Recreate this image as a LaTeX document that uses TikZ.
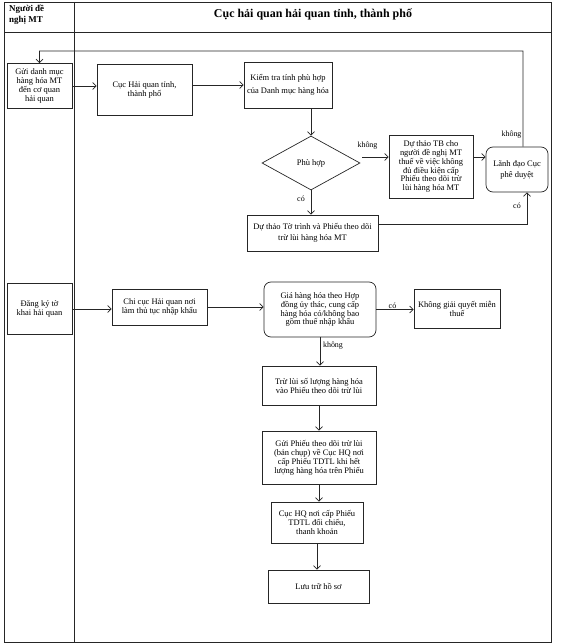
\documentclass[tikz,border=0pt]{standalone}
\usepackage{fontspec}
\setmainfont{Liberation Serif}
\usetikzlibrary{shapes.geometric,arrows.meta}

\begin{document}
\begin{tikzpicture}[x=1bp, y=-1bp,
    >={Straight Barb[length=3.5bp,width=7bp]},
    frame/.style={draw=black!85, line width=0.7bp},
    box/.style={draw=black!85, line width=0.7bp, align=center, inner sep=1bp, font=\fontsize{8.5}{9}\selectfont},
    roundbox/.style={box, rounded corners=7bp},
    decision/.style={draw=black!85, diamond, line width=0.7bp, inner sep=0pt, font=\fontsize{8.5}{9}\selectfont},
    lbl/.style={font=\fontsize{8}{9}\selectfont, inner sep=0pt},
    flow/.style={->, draw=black!85, line width=0.7bp}]

        \useasboundingbox (0,0) rectangle (562,644);

        % Frame and lanes
        \draw[frame] (4,2) rectangle (551,642);
        \draw[frame] (4,32) -- (551,32);
        \draw[frame] (74,2) -- (74,642);
        \node (lanehead) [anchor=north west, align=left, inner sep=0pt, font=\bfseries\fontsize{9}{11}\selectfont] at (9,5) {Người đề\\nghị MT};
        \node (title) [font=\bfseries\fontsize{12}{14}\selectfont] at (313,14) {Cục hải quan hải quan tỉnh, thành phố};

        % Nodes - upper part
        \node (send) [box, minimum width=65bp, minimum height=45bp] at (39.5,86) {Gửi danh mục\\hàng hóa MT\\đến cơ quan\\hải quan};
        \node (cuc) [box, minimum width=95bp, minimum height=51bp] at (144.5,89.5) {Cục Hải quan tỉnh,\\thành phố};
        \node (check) [box, minimum width=88bp, minimum height=46bp, font=\fontsize{8.5}{13}\selectfont] at (288,85) {Kiểm tra tính phù hợp\\của Danh mục hàng hóa};
        \node (dia) [decision, minimum width=98bp, minimum height=54bp] at (311,163) {Phù hợp};
        \node (tb) [box, minimum width=84bp, minimum height=63bp] at (431,166.5) {Dự thảo TB cho\\người đề nghị MT\\thuế về việc không\\đủ điều kiện cấp\\Phiếu theo dõi trừ\\lùi hàng hóa MT};
        \node (lead) [roundbox, minimum width=62bp, minimum height=45bp, font=\fontsize{8.5}{11}\selectfont] at (517,169.5) {Lãnh đạo Cục\\phê duyệt};
        \node (draft) [box, minimum width=131bp, minimum height=36bp, font=\fontsize{8.5}{11}\selectfont] at (312.5,233) {Dự thảo Tờ trình và Phiếu theo dõi\\trừ lùi hàng hóa MT};

        % Nodes - lower part
        \node (reg) [box, minimum width=65bp, minimum height=51bp] at (39.5,309) {Đăng ký tờ\\khai hải quan};
        \node (chi) [box, minimum width=95bp, minimum height=36bp] at (159.5,307) {Chi cục Hải quan nơi\\làm thủ tục nhập khẩu};
        \node (gia) [roundbox, minimum width=112bp, minimum height=55bp] at (320,309.5) {Giá hàng hóa theo Hợp\\đồng ủy thác, cung cấp\\hàng hóa có/không bao\\gồm thuế nhập khẩu};
        \node (khong) [box, minimum width=86bp, minimum height=39bp] at (457,308.5) {Không giải quyết miễn\\thuế};
        \node (tru) [box, minimum width=114bp, minimum height=39bp] at (319,385.5) {Trừ lùi số lượng hàng hóa\\vào Phiếu theo dõi trừ lùi};
        \node (gui) [box, minimum width=114bp, minimum height=53bp] at (319,457.5) {Gửi Phiếu theo dõi trừ lùi\\(bản chụp) về Cục HQ nơi\\cấp Phiếu TDTL khi hết\\lượng hàng hóa trên Phiếu};
        \node (cuchq) [box, minimum width=92bp, minimum height=41bp] at (317,522.5) {Cục HQ nơi cấp Phiếu\\TDTL đối chiếu,\\thanh khoản};
        \node (luu) [box, minimum width=101bp, minimum height=33bp] at (318.5,586.5) {Lưu trữ hồ sơ};

        % Labels
        \node (nofit) [lbl] at (367.5,146) {không};
        \node (yesfit) [lbl] at (301,199) {có};
        \node (noapprove) [lbl] at (511.5,135) {không};
        \node (yesapprove) [lbl] at (517,205.5) {có};
        \node (yesprice) [lbl] at (392.5,305.5) {có};
        \node (noprice) [lbl] at (333,346) {không};

        % Arrows - upper part
        \coordinate (diaout) at ([shift={(2,-6)}]dia.east);
        \coordinate (tbout) at ([yshift=9.5bp]tb.east);
        \coordinate (looptop) at (523,51);
        \draw[flow] (send.east) -- (send.east -| cuc.west);
        \draw[flow] (check.west -| cuc.east) -- (check.west);
        \draw[flow] (check.south -| dia.north) -- (dia.north);
        \draw[flow] (diaout) -- (diaout -| tb.west);
        \draw[flow] (tbout) -- (tbout -| lead.west);
        \draw[flow] (dia.south) -- (dia.south |- draft.north);
        \draw[flow] ([yshift=9bp]draft.east) -| ([xshift=10bp]lead.south);
        \draw[flow] ([xshift=6bp]lead.north) -- (looptop) -| (send.north);

        % Arrows - lower part
        \foreach \i/\j in {reg/chi, chi/gia, gia/khong} {
            \draw[flow] (\i.east) -- (\i.east -| \j.west);
        }
        \foreach \i/\j in {gia/tru, tru/gui, gui/cuchq, cuchq/luu} {
            \draw[flow] (\i.south) -- (\i.south |- \j.north);
        }

    \end{tikzpicture}
\end{document}
